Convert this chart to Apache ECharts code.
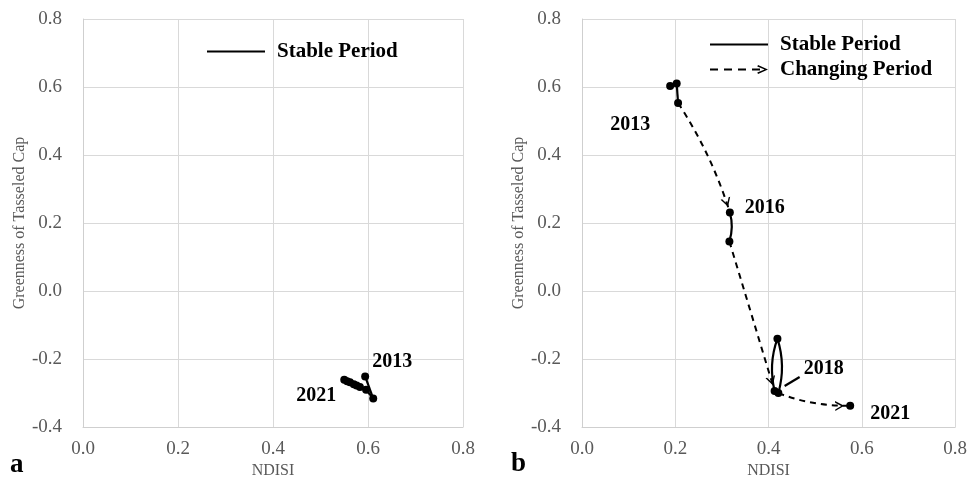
<!DOCTYPE html>
<html>
<head>
<meta charset="utf-8">
<script src="https://cdn.jsdelivr.net/npm/echarts@6/dist/echarts.min.js"></script>
<style>
html, body { margin: 0; padding: 0; background: #fff; }
#chart { width: 970px; height: 484px; }
</style>
</head>
<body>
<div id="chart"></div>
<script>
// data
var years = [2013, 2014, 2015, 2016, 2017, 2018, 2019, 2020, 2021];
var ndisiA = [0.594, 0.611, 0.596, 0.583, 0.576, 0.570, 0.562, 0.556, 0.550];
var greenA = [-0.251, -0.316, -0.290, -0.282, -0.278, -0.274, -0.268, -0.265, -0.261];
var ndisiB = [0.189, 0.203, 0.206, 0.317, 0.316, 0.413, 0.419, 0.421, 0.575];
var greenB = [0.603, 0.610, 0.553, 0.231, 0.146, -0.294, -0.140, -0.300, -0.337];
// periods as pairs of point indices
var stableA = [[0, 1], [1, 2], [2, 3], [3, 4], [4, 5], [5, 6], [6, 7], [7, 8]];
var stableB = [[0, 1], [1, 2], [3, 4], [5, 6], [6, 7]];
var changingB = [[2, 3], [4, 5], [7, 8]];
var labelYearsA = [2013, 2021];
var labelYearsB = [2013, 2016, 2018, 2021];
var leaderYearB = 2018;
var axisTicks = { xMin: 0, xMax: 0.8, yMin: -0.4, yMax: 0.8, step: 0.2 };

// styling
var serif = '"Liberation Serif", "Times New Roman", serif';
var curveB = { '3-4': 0.15, '5-6': 0.15, '6-7': 0.15, '2-3': 0.07, '7-8': -0.1, '4-5': 0 };
var offsetA = { 2013: [27, -15], 2021: [-28, 16] };
var offsetB = { 2013: [-40, 39], 2016: [35, -5], 2018: [49, -22], 2021: [40, 8] };
var arrowPath = 'path://M-10,-21 M20,9 M5,0 L10,9 L8.4,9 L5,3 L1.6,9 L0,9 Z';
var solidIcon = 'path://M0,0 M65,10 M0,3.9 H58 V6.1 H0 Z';
var dashIcon = 'path://M0,0 M65,10 M0,4 H8 V6 H0 Z M14,4 H22 V6 H14 Z M28,4 H36 V6 H28 Z M42,4 H50 V6 H42 Z ' +
    'M48,0.6 L58,5 L48,9.4 L47.3,8 L54.6,5 L47.3,2 Z';

function segs(xs, ys, pairs, curves) {
    return pairs.map(function (p) {
        var item = { coords: [[xs[p[0]], ys[p[0]]], [xs[p[1]], ys[p[1]]]] };
        var c = curves ? curves[p[0] + '-' + p[1]] : 0;
        if (c) item.lineStyle = { curveness: c };
        return item;
    });
}

function pts(xs, ys, labelYears, offsets) {
    return years.map(function (yr, i) {
        var item = { value: [xs[i], ys[i], yr] };
        if (labelYears.indexOf(yr) >= 0) {
            item.label = { show: true, offset: offsets[yr] };
        }
        return item;
    });
}

function xAxisOf(grid) {
    return {
        gridIndex: grid, type: 'value', min: axisTicks.xMin, max: axisTicks.xMax, interval: axisTicks.step,
        name: 'NDISI', nameLocation: 'middle', nameGap: 34,
        nameTextStyle: { fontFamily: serif, fontSize: 16, color: '#595959' },
        axisLine: { show: true, onZero: false, lineStyle: { color: '#cfcfcf', width: 1 } },
        axisTick: { show: false },
        splitLine: { show: true, lineStyle: { color: '#d9d9d9', width: 1 } },
        axisLabel: { margin: 12, fontFamily: serif, fontSize: 19, color: '#595959',
            formatter: function (v) { return v.toFixed(1); } }
    };
}

function yAxisOf(grid) {
    return {
        gridIndex: grid, type: 'value', min: axisTicks.yMin, max: axisTicks.yMax, interval: axisTicks.step,
        name: 'Greenness of Tasseled Cap', nameLocation: 'middle', nameGap: 55,
        nameTextStyle: { fontFamily: serif, fontSize: 16, color: '#595959' },
        axisLine: { show: true, lineStyle: { color: '#cfcfcf', width: 1 } },
        axisTick: { show: false },
        splitLine: { show: true, lineStyle: { color: '#d9d9d9', width: 1 } },
        axisLabel: { margin: 21, fontFamily: serif, fontSize: 19, color: '#595959',
            formatter: function (v) { return v.toFixed(1); } }
    };
}

var yearLabel = {
    show: false, position: 'inside', color: '#000',
    fontFamily: serif, fontWeight: 'bold', fontSize: 20,
    formatter: function (p) { return String(p.value[2]); }
};

var chart = echarts.init(document.getElementById('chart'));
var option = {
    animation: false,
    color: ['#000'],
    grid: [
        { left: 83, top: 19, width: 380, height: 412 },
        { left: 582, top: 19, width: 380, height: 412 }
    ],
    xAxis: [xAxisOf(0), xAxisOf(1)],
    yAxis: [yAxisOf(0), yAxisOf(1)],
    legend: [
        {
            left: 207, top: 41, padding: 0, itemWidth: 65, itemHeight: 10,
            itemStyle: { color: '#000', borderWidth: 0 },
            textStyle: { fontFamily: serif, fontWeight: 'bold', fontSize: 21, color: '#000' },
            data: [{ name: 'Stable Period', icon: solidIcon }],
            selectedMode: false
        },
        {
            left: 710, top: 34, padding: 0, orient: 'vertical', itemGap: 4, itemWidth: 65, itemHeight: 10,
            itemStyle: { color: '#000', borderWidth: 0 },
            textStyle: { fontFamily: serif, fontWeight: 'bold', fontSize: 21, color: '#000' },
            data: [{ name: 'Stable Period', icon: solidIcon }, { name: 'Changing Period', icon: dashIcon }],
            selectedMode: false
        }
    ],
    graphic: [
        { id: 'tagA', type: 'text', left: 10, top: 452, style: { text: 'a', font: 'bold 27px ' + serif, fill: '#000' } },
        { id: 'tagB', type: 'text', left: 511, top: 451, style: { text: 'b', font: 'bold 27px ' + serif, fill: '#000' } }
    ],
    series: [
        {
            name: 'Stable Period', type: 'lines', coordinateSystem: 'cartesian2d',
            xAxisIndex: 0, yAxisIndex: 0, symbol: 'none',
            lineStyle: { color: '#000', width: 2.2, opacity: 1 },
            data: segs(ndisiA, greenA, stableA, null)
        },
        {
            name: 'Stable Period', type: 'lines', coordinateSystem: 'cartesian2d',
            xAxisIndex: 1, yAxisIndex: 1, symbol: 'none',
            lineStyle: { color: '#000', width: 2.2, opacity: 1 },
            data: segs(ndisiB, greenB, stableB, curveB)
        },
        {
            name: 'Changing Period', type: 'lines', coordinateSystem: 'cartesian2d',
            xAxisIndex: 1, yAxisIndex: 1,
            symbol: ['none', arrowPath], symbolSize: 30,
            lineStyle: { color: '#000', width: 2, type: [6, 5], opacity: 1 },
            data: segs(ndisiB, greenB, changingB, curveB)
        },
        {
            name: 'years a', type: 'scatter', xAxisIndex: 0, yAxisIndex: 0,
            symbol: 'circle', symbolSize: 8, itemStyle: { color: '#000', opacity: 1 }, z: 5,
            label: yearLabel,
            data: pts(ndisiA, greenA, labelYearsA, offsetA)
        },
        {
            name: 'years b', type: 'scatter', xAxisIndex: 1, yAxisIndex: 1,
            symbol: 'circle', symbolSize: 8, itemStyle: { color: '#000', opacity: 1 }, z: 5,
            label: yearLabel,
            data: pts(ndisiB, greenB, labelYearsB, offsetB)
        }
    ]
};
chart.setOption(option);

// short leader from the 2018 point towards its label
var k = years.indexOf(leaderYearB);
var p = chart.convertToPixel({ xAxisIndex: 1, yAxisIndex: 1 }, [ndisiB[k], greenB[k]]);
chart.setOption({
    graphic: [{
        id: 'leader', type: 'line', z: 10,
        shape: { x1: p[0] + 10, y1: p[1] - 5, x2: p[0] + 25, y2: p[1] - 14 },
        style: { stroke: '#000', lineWidth: 2.2 }
    }]
});
</script>
</body>
</html>
